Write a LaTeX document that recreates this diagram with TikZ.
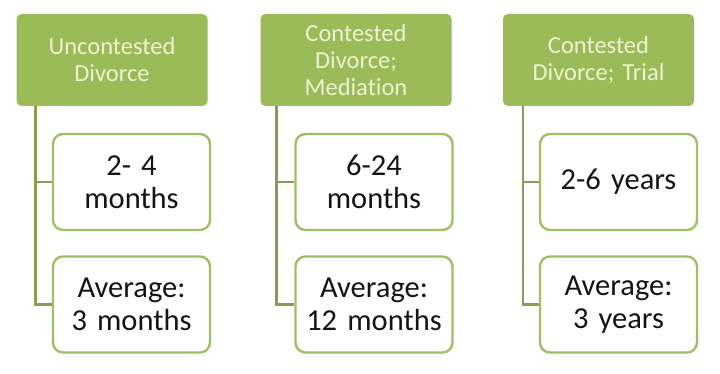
\documentclass[tikz,border=0pt]{standalone}
\usepackage{fontspec}
\setmainfont[Ligatures={NoCommon},WordSpace=0.8]{Carlito}
\definecolor{hdrfill}{RGB}{155,187,89}
\definecolor{hdrtext}{RGB}{236,244,210}
\definecolor{boxline}{RGB}{160,190,100}
\definecolor{connline}{RGB}{134,158,80}
\definecolor{txt}{RGB}{20,20,20}
\tikzset{
  hdr/.style={fill=hdrfill, draw=none, rounded corners=5pt, minimum width=191pt, minimum height=92pt,
    text width=186pt, align=center, text=hdrtext, font=\fontsize{24.5}{27}\selectfont, inner sep=0pt},
  leaf/.style={fill=white, draw=boxline, line width=2.4pt, rounded corners=10pt, minimum width=157pt,
    minimum height=96pt, text width=152pt, align=center, text=txt, font=\fontsize{30.5}{33}\selectfont, inner sep=0pt},
  conn/.style={draw=connline, line width=2.6pt}
}
\begin{document}
\begin{tikzpicture}[x=1pt,y=1pt]
\useasboundingbox[fill=white] (0,0) rectangle (720,-374);
% column 1
\node[hdr] (h1) at (112,-60) {Uncontested\\Divorce};
\node[leaf] (a1) at (131.5,-182) {2- 4\\months};
\node[leaf] (a2) at (131.5,-304.5) {Average:\\3 months};
% column 2
\node[hdr] (h2) at (356,-60) {Contested\\Divorce;\\Mediation};
\node[leaf] (b1) at (374,-182) {6-24\\months};
\node[leaf] (b2) at (374,-304.5) {Average:\\12 months};
% column 3
\node[hdr] (h3) at (598.5,-60) {Contested\\Divorce; Trial};
\node[leaf] (c1) at (618.5,-182) {2-6 years};
\node[leaf] (c2) at (618.5,-304.5) {Average:\\3 years};
% connectors
\draw[conn] ([xshift=19pt]h1.south west) |- (a1.west);
\draw[conn] ([xshift=19pt]h1.south west) |- (a2.west);
\draw[conn] ([xshift=16pt]h2.south west) |- (b1.west);
\draw[conn] ([xshift=16pt]h2.south west) |- (b2.west);
\draw[conn] ([xshift=20pt]h3.south west) |- (c1.west);
\draw[conn] ([xshift=20pt]h3.south west) |- (c2.west);
\end{tikzpicture}
\end{document}
